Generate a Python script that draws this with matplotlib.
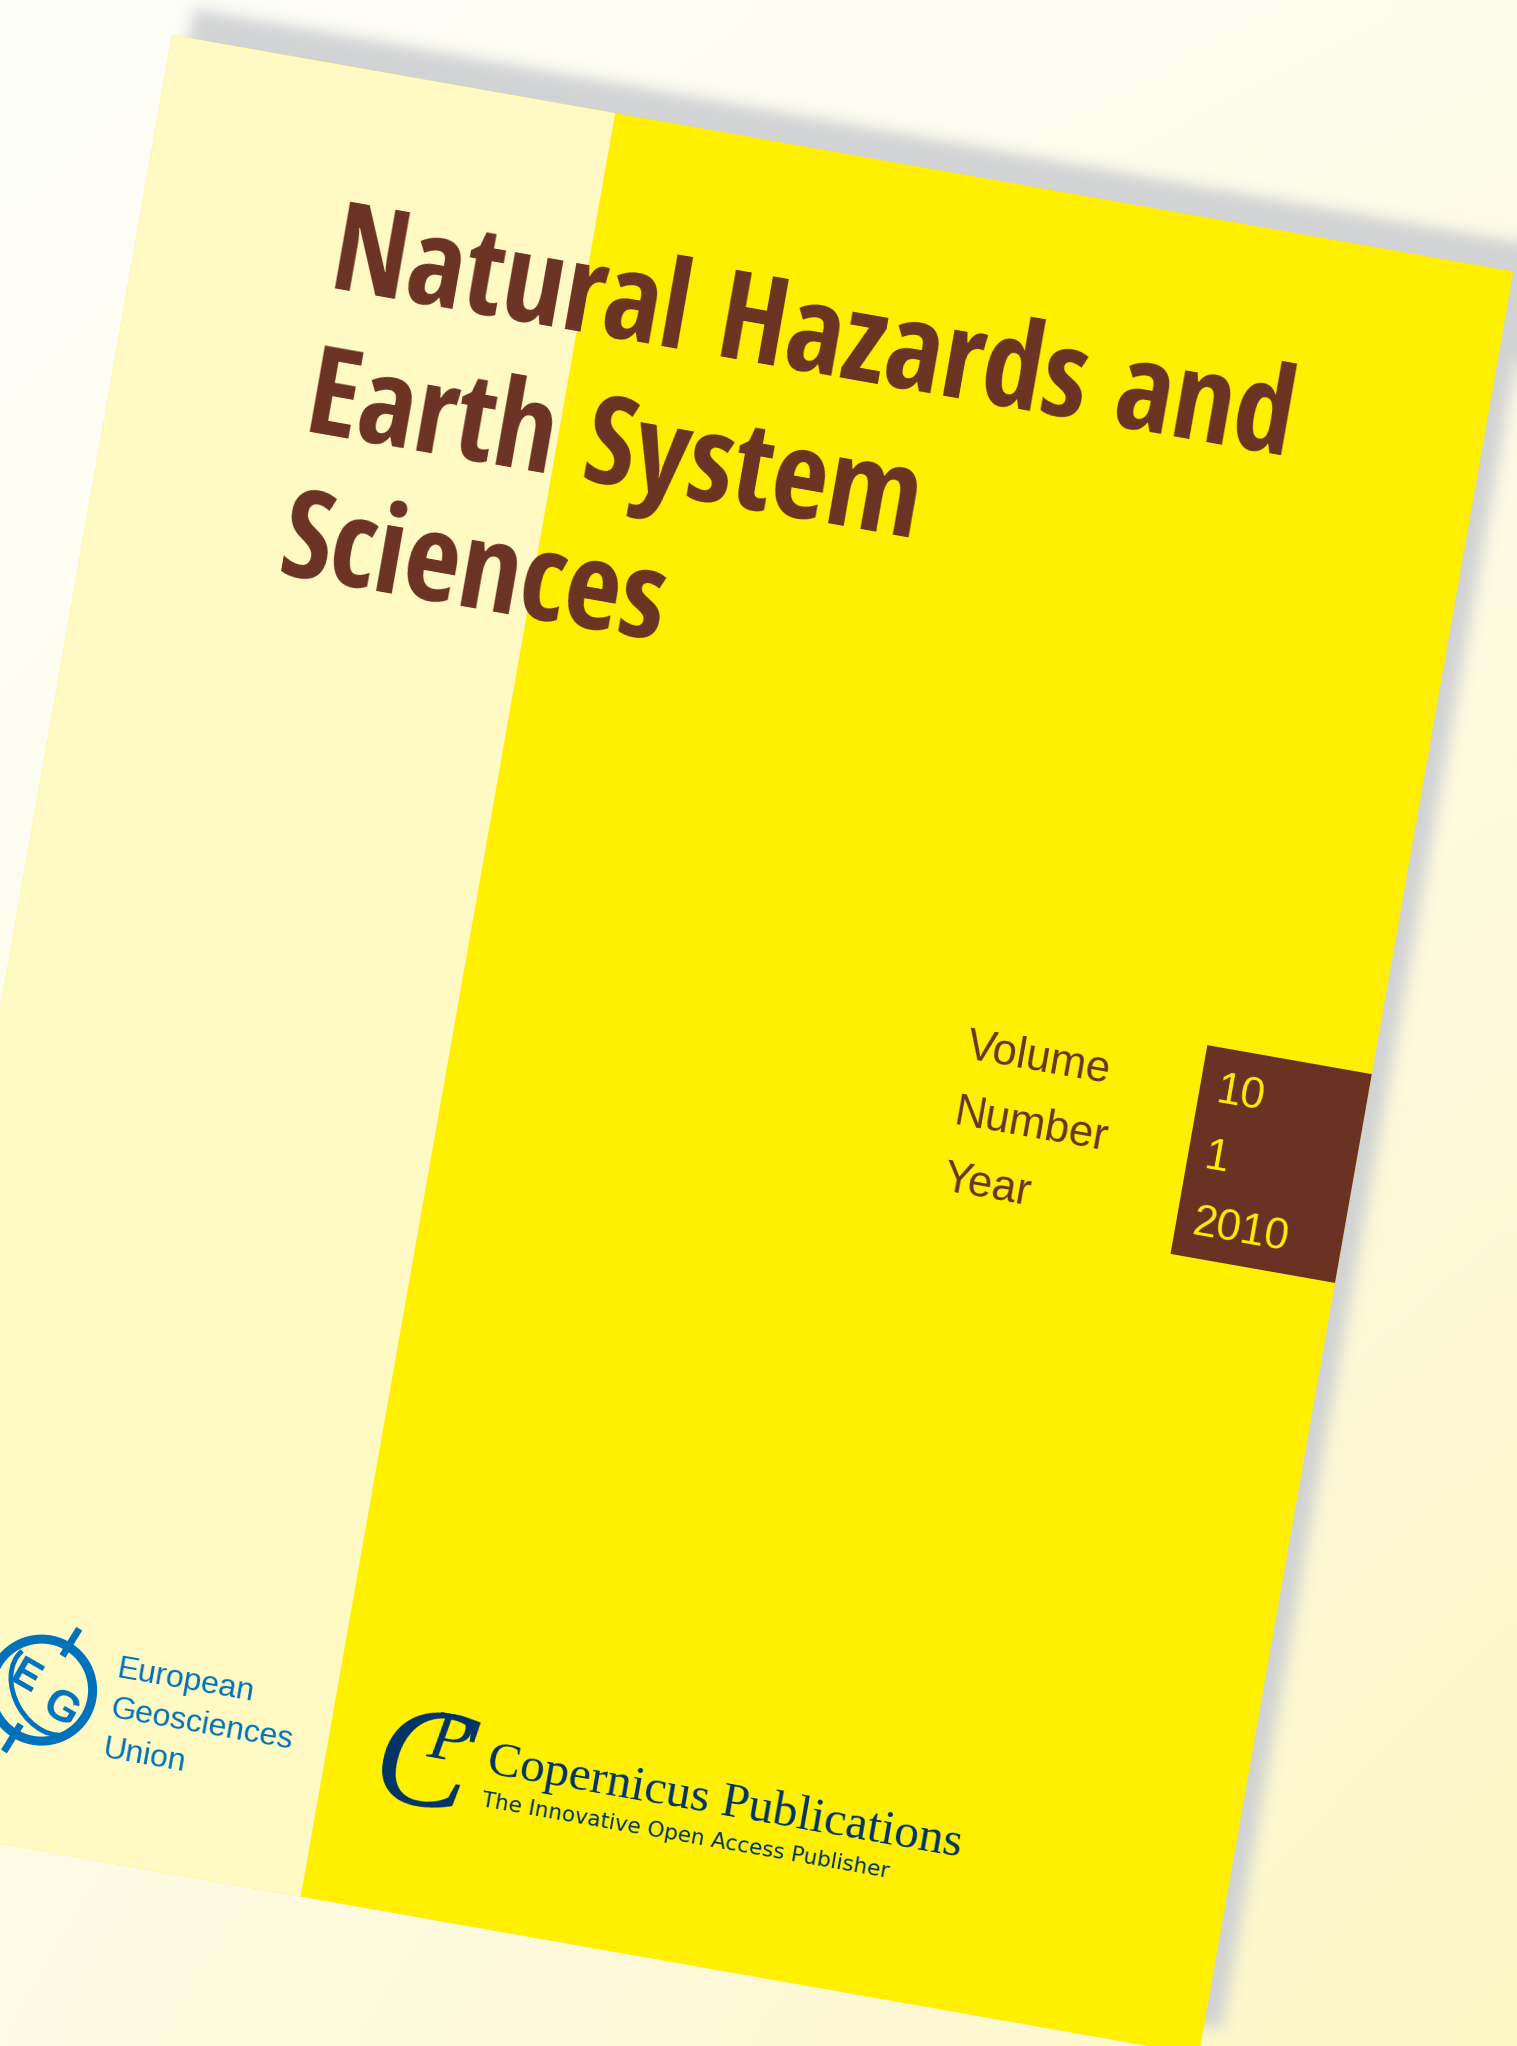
import numpy as np
import matplotlib
matplotlib.use("Agg")
import matplotlib.pyplot as plt
from matplotlib.patches import Polygon, Circle, Arc
from matplotlib.path import Path
from matplotlib.colors import to_rgb
from matplotlib import font_manager as fm
from matplotlib.font_manager import FontProperties
from matplotlib.textpath import TextPath

# ---------------- content ----------------
title_lines = ["Natural Hazards and", "Earth System", "Sciences"]
info_labels = ["Volume", "Number", "Year"]
info_values = ["10", "1", "2010"]
egu_lines = ["European", "Geosciences", "Union"]
publisher_name = "Copernicus Publications"
publisher_tagline = "The Innovative Open Access Publisher"

# ---------------- colours ----------------
BG_TL, BG_TR, BG_BL, BG_BR = "#FEFEF9", "#FDFCEC", "#FEFBE4", "#FDF7C6"
SHADOW = "#CFD1D3"
YELLOW = "#FFF000"
PALE = "#FFF9C4"
BROWN = "#6B3223"
EGU_BLUE = "#0072BC"
NAVY = "#003366"

# ---------------- geometry (cover frame) ----------------
W, H = 1517, 2046
ANGLE = 10.0
ORIGIN = (172.0, 35.0)
COVER_W, COVER_H = 1362.0, 1811.0
STRIP_W = 450.0
BOX = (1195.0, 815.0, 1362.0, 1027.0)
SHADOW_OFF = (22.0, -26.0)

c, s = np.cos(np.radians(ANGLE)), np.sin(np.radians(ANGLE))


def to_img(u, v):
    return ORIGIN[0] + u * c - v * s, ORIGIN[1] + u * s + v * c


def rect(u0, v0, u1, v1):
    return [to_img(u0, v0), to_img(u1, v0), to_img(u1, v1), to_img(u0, v1)]


fig = plt.figure(figsize=(W / 100, H / 100), dpi=100)
ax = fig.add_axes([0, 0, 1, 1])
ax.set_xlim(0, W)
ax.set_ylim(H, 0)
ax.axis("off")

# background gradient
n = 64
tx = np.linspace(0, 1, n)[None, :, None]
ty = np.linspace(0, 1, n)[:, None, None]
tl, tr, bl, br = (np.array(to_rgb(k)) for k in (BG_TL, BG_TR, BG_BL, BG_BR))
bg = (1 - ty) * ((1 - tx) * tl + tx * tr) + ty * ((1 - tx) * bl + tx * br)
ax.imshow(bg, extent=(0, W, H, 0), interpolation="bilinear", zorder=0)

# soft shadow
step = 2
xs = np.arange(step / 2, W, step)
ys = np.arange(step / 2, H, step)
XX, YY = np.meshgrid(xs, ys)
cover_pts = np.array(rect(0, 0, COVER_W, COVER_H))
shadow_pts = cover_pts + np.array(SHADOW_OFF)
mask = Path(shadow_pts).contains_points(np.c_[XX.ravel(), YY.ravel()]).reshape(XX.shape).astype(float)


def box_blur(a, r, axis):
    pad = [(0, 0), (0, 0)]
    pad[axis] = (r + 1, r)
    ap = np.pad(a, pad, mode="edge")
    cs = np.cumsum(ap, axis=axis)
    if axis == 0:
        return (cs[2 * r + 1:, :] - cs[:-2 * r - 1, :]) / (2 * r + 1)
    return (cs[:, 2 * r + 1:] - cs[:, :-2 * r - 1]) / (2 * r + 1)


for _ in range(3):
    mask = box_blur(mask, 3, 0)
    mask = box_blur(mask, 3, 1)
rgba = np.zeros(mask.shape + (4,))
rgba[..., :3] = to_rgb(SHADOW)
rgba[..., 3] = np.clip(mask, 0, 1) * 0.95
ax.imshow(rgba, extent=(0, W, H, 0), interpolation="bilinear", zorder=1)
ax.set_xlim(0, W)
ax.set_ylim(H, 0)
ax.set_aspect("auto")

# cover
ax.add_patch(Polygon(cover_pts, closed=True, facecolor=YELLOW, edgecolor="none", zorder=2))
ax.add_patch(Polygon(rect(0, 0, STRIP_W, COVER_H), closed=True, facecolor=PALE, edgecolor="none", zorder=3))
ax.add_patch(Polygon(rect(*BOX), closed=True, facecolor=BROWN, edgecolor="none", zorder=4))


def put(u, v, text, **kw):
    x, y = to_img(u, v)
    ax.text(x, y, text, rotation=-ANGLE, rotation_mode="anchor",
            ha="left", va="baseline", zorder=6, **kw)


# ---- title font: pick the installed bold face whose proportions best match
TARGET_W, TARGET_CAP = 960.0, 87.0


def is_bold(f):
    w = f.weight
    if isinstance(w, str):
        return w.lower() in ("bold", "heavy", "extra bold", "black", "semibold", "demibold", "demi")
    return w >= 600


cands = []
seen = set()
for f in fm.fontManager.ttflist:
    if f.style != "normal" or not is_bold(f) or f.fname in seen:
        continue
    tag = (f.name + " " + f.fname).lower()
    if "serif" in tag.replace("sans", "") and "sans" not in tag:
        continue
    if "mono" in tag or "cjk" in tag or "serif" in f.name.lower():
        continue
    if ("narrow" in tag or "condens" in tag or f.stretch not in ("normal", 500)
            or f.name in ("Liberation Sans", "Roboto", "Open Sans", "Noto Sans", "Lato", "Inter")):
        seen.add(f.fname)
        cands.append(f.fname)

best = None
for fn in cands:
    try:
        prop = FontProperties(fname=fn)
        ext = TextPath((0, 0), title_lines[0], size=100, prop=prop).get_extents()
        cap = TextPath((0, 0), "H", size=100, prop=prop).get_extents().height
        ratio = ext.width / cap
        score = abs(np.log(ratio / (TARGET_W / TARGET_CAP)))
        bear = TextPath((0, 0), "N", size=100, prop=prop).get_extents().x0
        if best is None or score < best[0]:
            best = (score, fn, ext.width, cap, bear)
    except Exception:
        continue

if best is not None:
    _, tfn, w100, cap100, bear100 = best
    tsize = 72.0 * np.sqrt((TARGET_W / w100) * (TARGET_CAP / cap100))
    tprop = FontProperties(fname=tfn, size=tsize)
    bear_px = bear100 * tsize / 72.0
else:
    tprop = FontProperties(family="Liberation Sans", weight="bold", size=72)
    bear_px = 5.0

title_v = [221, 367, 513]
for line, v in zip(title_lines, title_v):
    put(204 - bear_px, v, line, color=BROWN, fontproperties=tprop)

# volume / number / year
row_v = [870, 937, 1004]
for lab, val, v in zip(info_labels, info_values, row_v):
    put(958, v, lab, color=BROWN, family="Liberation Sans", fontsize=31.4)
    put(1212, v, val, color=YELLOW, family="Liberation Sans", fontsize=31.4)

# EGU block
egu_v = [1627, 1667.5, 1708]
for line, v in zip(egu_lines, egu_v):
    put(230, v, line, color=EGU_BLUE, family="Liberation Sans", fontsize=23)

# EGU logo (approximation)
cx, cy = to_img(159, 1652.6)
ax.add_patch(Circle((cx, cy), 51, fill=False, edgecolor=EGU_BLUE, linewidth=6.5, zorder=6))
ax.add_patch(Arc((cx + 8, cy), 70, 96, angle=-30, theta1=95, theta2=265,
                 edgecolor=EGU_BLUE, linewidth=3.5, zorder=6))
ang = np.radians(58.5)
for sgn in (1, -1):
    ax.plot([cx + sgn * 40 * np.cos(ang), cx + sgn * 72 * np.cos(ang)],
            [cy - sgn * 40 * np.sin(ang), cy - sgn * 72 * np.sin(ang)],
            color=EGU_BLUE, linewidth=5, solid_capstyle="butt", zorder=6)
ex, ey = to_img(140, 1643)
ax.text(ex, ey, "E", color=EGU_BLUE, family="Liberation Sans", fontweight="bold",
        fontsize=30, rotation=-30, ha="center", va="center", zorder=6)
gx, gy = to_img(180, 1669)
ax.text(gx, gy, "G", color=EGU_BLUE, family="Liberation Sans", fontweight="bold",
        fontsize=32, rotation=-30, ha="center", va="center", zorder=6)

# Copernicus block
put(611, 1657, publisher_name, color=NAVY, family="Liberation Serif", fontsize=35.6)
put(612, 1690.5, publisher_tagline, color=NAVY, family="DejaVu Sans", fontsize=15.6)
lx, ly = to_img(548, 1668)
ax.text(lx, ly, "C", color=NAVY, family="Liberation Serif", fontstyle="italic",
        fontsize=104, rotation=-ANGLE, ha="center", va="center", zorder=6)
px_, py_ = to_img(570, 1634)
ax.text(px_, py_, "P", color=NAVY, family="Liberation Serif", fontstyle="italic",
        fontsize=50, rotation=-ANGLE, ha="center", va="center", zorder=6)

fig.savefig("out.png", dpi=100)
